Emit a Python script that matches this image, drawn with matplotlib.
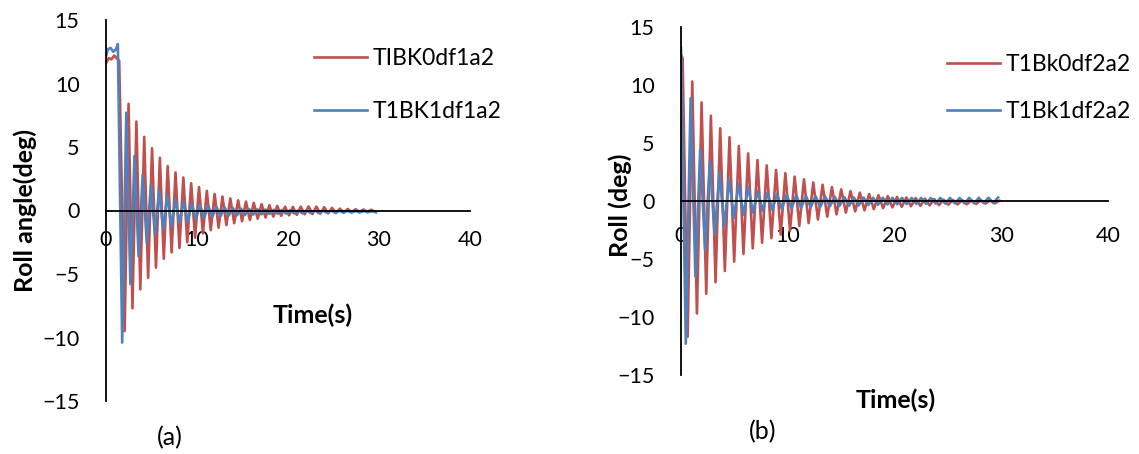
import numpy as np
import matplotlib
matplotlib.use("Agg")
import matplotlib.pyplot as plt

plt.rcParams['font.family'] = ['Lato', 'DejaVu Sans']

# ---- data ----
# (a) start plateau (time, roll) then extrema every half period
a_red_start_t = [0.0, 0.3, 0.6, 0.9, 1.15, 1.45]
a_red_start_v = [11.6, 12.0, 11.9, 12.2, 12.0, 11.8]
a_red_t0, a_red_half = 2.05, 0.43
a_red_ext = [-9.5, 8.4, -7.7, 7.0, -6.2, 5.8, -5.3, 4.9, -4.5, 4.15,
             -3.8, 3.5, -3.3, 3.0, -2.95, 2.6, -2.5, 2.15, -2.15, 1.85,
             -1.8, 1.55, -1.55, 1.3, -1.35, 1.1, -1.15, 0.95, -1.0, 0.8,
             -0.85, 0.7, -0.75, 0.6, -0.65, 0.5, -0.55, 0.42, -0.48, 0.36,
             -0.42, 0.3, -0.38, 0.28, -0.34, 0.3, -0.3, 0.32, -0.28, 0.3,
             -0.25, 0.26, -0.22, 0.2, -0.2, 0.15, -0.18, 0.12, -0.15, 0.1,
             -0.13, 0.08, -0.12, 0.06, -0.1]

a_blue_start_t = [0.0, 0.2, 0.5, 0.8, 1.1, 1.3]
a_blue_start_v = [12.1, 12.7, 12.8, 12.5, 12.7, 13.1]
a_blue_t0, a_blue_half = 1.78, 0.45
a_blue_ext = [-10.4, 7.7, -5.8, 4.3, -3.6, 2.8, -2.55, 2.0, -1.9, 1.6,
              -1.5, 1.2, -1.23, 0.87, -1.0, 0.73, -0.9, 0.55, -0.7, 0.45,
              -0.6, 0.38, -0.5, 0.3, -0.45, 0.25, -0.4, 0.2, -0.38, 0.15,
              -0.35, 0.12, -0.32, 0.1, -0.3, 0.08, -0.28, 0.06, -0.26, 0.05,
              -0.25, 0.04, -0.24, 0.03, -0.22, 0.02, -0.2, 0.02, -0.2, 0.0,
              -0.18, 0.0, -0.18, -0.02, -0.16, -0.02, -0.16, -0.04, -0.15, -0.04,
              -0.14, -0.05, -0.14]

# (b)
b_red_start_t = [0.0, 0.15]
b_red_start_v = [12.6, 12.3]
b_red_t0, b_red_half = 0.62, 0.436
b_red_ext = [-11.7, 10.3, -9.7, 8.5, -8.0, 7.35, -7.0, 6.27, -6.03, 5.5,
             -5.23, 4.74, -4.57, 4.1, -4.08, 3.53, -3.6, 3.07, -3.2, 2.67,
             -2.9, 2.4, -2.56, 2.1, -2.15, 1.87, -1.9, 1.6, -1.6, 1.4,
             -1.35, 1.2, -1.15, 1.0, -1.0, 0.85, -0.9, 0.72, -0.8, 0.6,
             -0.7, 0.5, -0.62, 0.42, -0.55, 0.35, -0.5, 0.3, -0.45, 0.25,
             -0.42, 0.2, -0.38, 0.16, -0.35, 0.12, -0.32, 0.1, -0.3, 0.08,
             -0.28, 0.06, -0.25, 0.05, -0.22, 0.04, -0.2, 0.02]

b_blue_start_t = []
b_blue_start_v = []
b_blue_t0, b_blue_half = 0.0, 0.45
b_blue_ext = [13.2, -12.3, 8.85, -6.5, 4.5, -4.2, 3.4, -2.9, 2.45, -2.2,
              1.87, -1.45, 1.5, -1.2, 1.18, -1.0, 0.86, -0.85, 0.72, -0.75,
              0.6, -0.7, 0.55, -0.65, 0.5, -0.6, 0.45, -0.55, 0.42, -0.5,
              0.4, -0.45, 0.36, -0.42, 0.33, -0.4, 0.3, -0.38, 0.3, -0.35,
              0.28, -0.33, 0.28, -0.3, 0.27, -0.28, 0.27, -0.26, 0.26, -0.25,
              0.26, -0.24, 0.26, -0.22, 0.26, -0.22, 0.26, -0.2, 0.26, -0.2,
              0.27, -0.2, 0.28, -0.18, 0.28, -0.18, 0.3]

labels_a = ['TIBK0df1a2', 'T1BK1df1a2']
labels_b = ['T1Bk0df2a2', 'T1Bk1df2a2']

RED = '#C0504D'
BLUE = '#4F81BD'
W, H = 1139, 454


def series(start_t, start_v, t0, half, ext):
    t = list(start_t) + [t0 + half * i for i in range(len(ext))]
    v = list(start_v) + list(ext)
    return np.array(t), np.array(v)


def box(x0, y0, x1, y1):
    return [x0 / W, 1 - y1 / H, (x1 - x0) / W, (y1 - y0) / H]


def style(ax, xpad):
    ax.set_xlim(0, 40)
    ax.set_ylim(-15, 15)
    ax.set_xticks([0, 10, 20, 30, 40])
    ax.set_yticks([-15, -10, -5, 0, 5, 10, 15])
    ax.spines['left'].set_position(('data', 0))
    ax.spines['bottom'].set_position(('data', 0))
    ax.spines['top'].set_visible(False)
    ax.spines['right'].set_visible(False)
    for s in ('left', 'bottom'):
        ax.spines[s].set_linewidth(1.3)
    ax.tick_params(axis='x', length=0, pad=xpad, labelsize=15.5)
    ax.tick_params(axis='y', length=0, pad=19, labelsize=15.5)
    ax.patch.set_alpha(0)


fig = plt.figure(figsize=(W / 100, H / 100), dpi=100)

ax1 = fig.add_axes(box(106, 20, 470, 401))
t, v = series(a_red_start_t, a_red_start_v, a_red_t0, a_red_half, a_red_ext)
ax1.plot(t, v, color=RED, lw=1.9, label=labels_a[0])
t, v = series(a_blue_start_t, a_blue_start_v, a_blue_t0, a_blue_half, a_blue_ext)
ax1.plot(t, v, color=BLUE, lw=1.9, label=labels_a[1])
style(ax1, 14)
ax1.legend(loc='center left', bbox_to_anchor=(314 / W, 1 - 85 / H),
           bbox_transform=fig.transFigure, frameon=False, fontsize=16.5,
           handlelength=2.3, handletextpad=0.27, labelspacing=1.4,
           borderpad=0, borderaxespad=0)

ax2 = fig.add_axes(box(681, 27, 1108, 375))
t, v = series(b_red_start_t, b_red_start_v, b_red_t0, b_red_half, b_red_ext)
ax2.plot(t, v, color=RED, lw=1.9, label=labels_b[0])
t, v = series(b_blue_start_t, b_blue_start_v, b_blue_t0, b_blue_half, b_blue_ext)
ax2.plot(t, v, color=BLUE, lw=1.9, label=labels_b[1])
style(ax2, 18)
ax2.legend(loc='center left', bbox_to_anchor=(947 / W, 1 - 88 / H),
           bbox_transform=fig.transFigure, frameon=False, fontsize=16.5,
           handlelength=2.3, handletextpad=0.27, labelspacing=1.1,
           borderpad=0, borderaxespad=0)

fig.text(25 / W, 1 - 210 / H, 'Roll angle(deg)', rotation=90, fontsize=18,
         fontweight='bold', ha='center', va='center')
fig.text(620 / W, 1 - 205 / H, 'Roll (deg)', rotation=90, fontsize=18,
         fontweight='bold', ha='center', va='center')
fig.text(313 / W, 1 - 315 / H, 'Time(s)', fontsize=18, fontweight='bold',
         ha='center', va='center')
fig.text(896 / W, 1 - 400 / H, 'Time(s)', fontsize=18, fontweight='bold',
         ha='center', va='center')
fig.text(170 / W, 1 - 438 / H, '(a)', fontsize=18, ha='center', va='center')
fig.text(763 / W, 1 - 432 / H, '(b)', fontsize=18, ha='center', va='center')

fig.savefig('out.png', dpi=100)
